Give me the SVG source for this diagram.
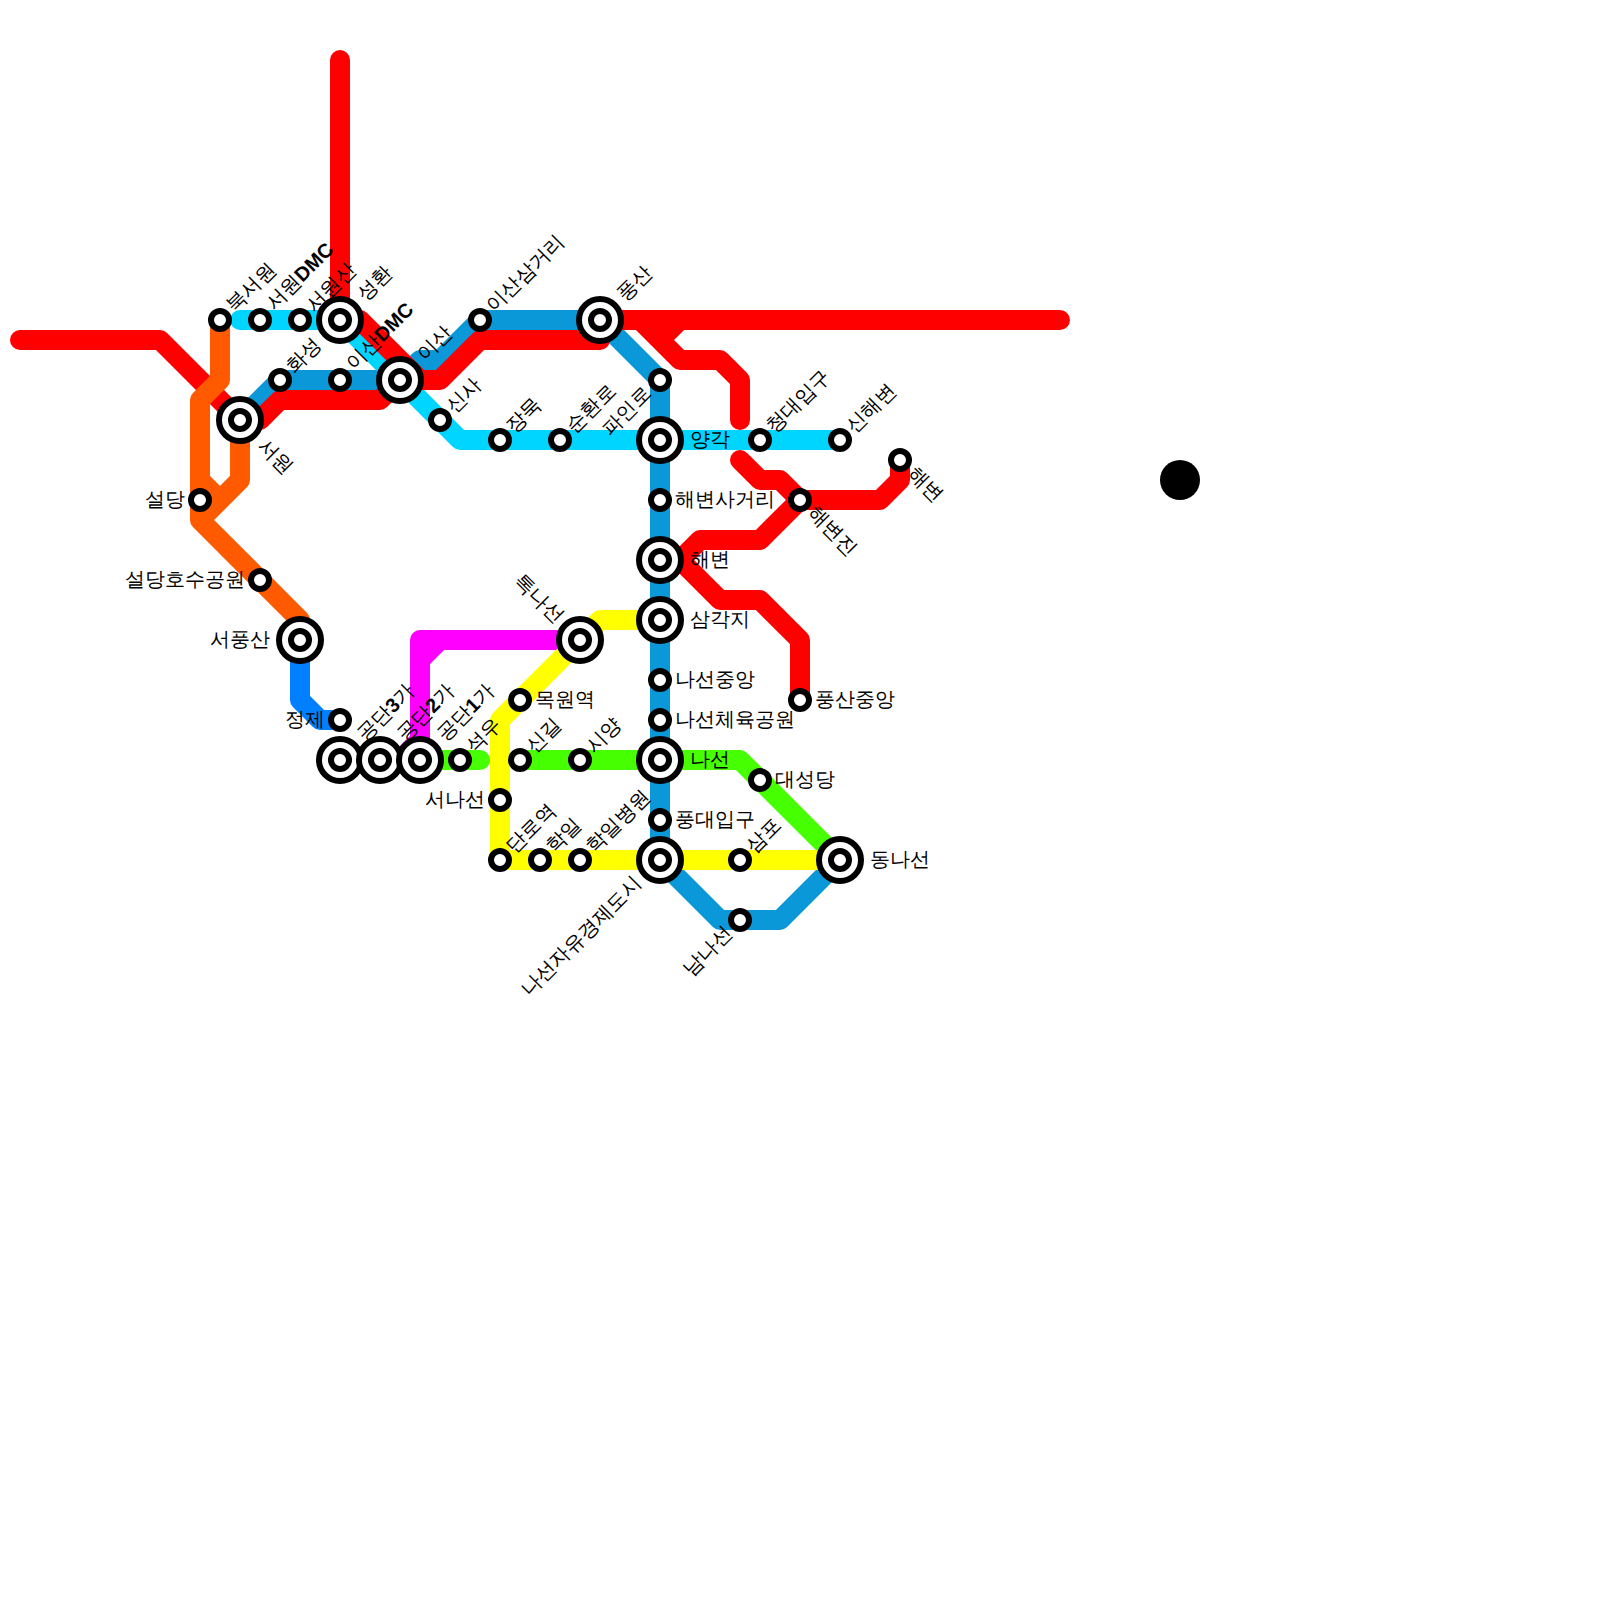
<svg xmlns="http://www.w3.org/2000/svg" width="1600" height="1600" viewBox="0 0 1600 1600">
<style>
.l{fill:none;stroke-width:20;stroke-linejoin:round;stroke-linecap:round}
.b{stroke:#0a98d8}.r{stroke:#ff0000}.c{stroke:#00d5ff}.o{stroke:#ff5a00}.y{stroke:#ffff00}.g{stroke:#46ff00}.m{stroke:#ff00ff}.n{stroke:#0080ff}
.s{fill:#fff;stroke:#000;stroke-width:6}
text{font-family:"Liberation Sans",sans-serif;font-size:20px;fill:#000}
tspan{font-weight:bold}
.e{text-anchor:end}
</style>
<defs>
<g id="st"><circle class="s" r="9"/></g>
<g id="ic"><circle class="s" r="21"/><circle class="s" r="9"/></g>
</defs>
<g id="connectors">
<path class="l b" d="M240 420L280 380H400L420 360H440L480 320H600L660 380V860L720 920H780L840 860"/>
<path class="l n" d="M300 640V700L320 720H340"/>
<path class="l c" d="M240 320H340L460 440H840"/>
<path class="l m" d="M580 640H420V760M440 640L420 660M420 740L400 760"/>
<path class="l g" d="M420 760H480M520 760H740L840 860"/>
<path class="l y" d="M840 860H500V720L600 620H660"/>
<path class="l r" d="M340 60V320H360L420 380H400M20 340H160L240 420H260L280 400H380L400 380H440L480 340H600V320H1060M640 320L680 360H720L740 380V420M680 320L660 340M740 460L760 480H780L800 500H880L900 480V460M800 500L760 540H700L680 560H660M680 560L720 600H760L800 640V700"/>
<path class="l o" d="M220 320V380L200 400V520L300 620V640M200 480L220 500M240 420V480L200 520"/>
</g>
<g id="n1"><use href="#st" x="220" y="320"/><text transform="translate(230 309) rotate(-45)" dy="6">북서원</text></g>
<g id="n2"><use href="#st" x="260" y="320"/><text transform="translate(270 307) rotate(-45)" dy="6">서원<tspan>DMC</tspan></text></g>
<g id="n3"><use href="#st" x="300" y="320"/><text transform="translate(310 309) rotate(-45)" dy="6">서원산</text></g>
<g id="n4"><use href="#ic" x="340" y="320"/><text transform="translate(361 298) rotate(-45)" dy="6">성환</text></g>
<g id="n5"><use href="#st" x="280" y="380"/><text transform="translate(290 370) rotate(-45)" dy="6">화성</text></g>
<g id="n6"><use href="#st" x="340" y="380"/><text transform="translate(350 367) rotate(-45)" dy="6">이산<tspan>DMC</tspan></text></g>
<g id="n7"><use href="#ic" x="400" y="380"/><text transform="translate(421 358) rotate(-45)" dy="6">이산</text></g>
<g id="n8"><use href="#ic" x="240" y="420"/><text transform="translate(261 443) rotate(45)" dy="6">서원</text></g>
<g id="n9"><use href="#st" x="200" y="500"/><text class="e" x="185" y="506">설당</text></g>
<g id="n10"><use href="#st" x="440" y="420"/><text transform="translate(450 410) rotate(-45)" dy="6">신사</text></g>
<g id="n11"><use href="#st" x="500" y="440"/><text transform="translate(510 430) rotate(-45)" dy="6">장묵</text></g>
<g id="n12"><use href="#st" x="560" y="440"/><text transform="translate(570 430) rotate(-45)" dy="6">순환로</text></g>
<g id="n13"><use href="#st" x="660" y="380"/><text class="e" transform="translate(648 390) rotate(-45)" dy="6">파인로</text></g>
<g id="n14"><use href="#ic" x="660" y="440"/><text x="690" y="446">양각</text></g>
<g id="n15"><use href="#st" x="480" y="320"/><text transform="translate(490 309) rotate(-45)" dy="6">이산삼거리</text></g>
<g id="n16"><use href="#ic" x="600" y="320"/><text transform="translate(621 298) rotate(-45)" dy="6">풍산</text></g>
<g id="n17"><use href="#st" x="760" y="440"/><text transform="translate(770 430) rotate(-45)" dy="6">청대입구</text></g>
<g id="n18"><use href="#st" x="840" y="440"/><text transform="translate(850 430) rotate(-45)" dy="6">신해변</text></g>
<g id="n19"><use href="#st" x="900" y="460"/><text transform="translate(911 471) rotate(45)" dy="6">해변</text></g>
<g id="n20"><use href="#st" x="800" y="500"/><text transform="translate(811 510) rotate(45)" dy="6">해변진</text></g>
<g id="n21"><use href="#st" x="660" y="500"/><text x="675" y="506">해변사거리</text></g>
<g id="n22"><use href="#ic" x="660" y="560"/><text x="690" y="566">해변</text></g>
<g id="n23"><use href="#ic" x="660" y="620"/><text x="690" y="626">삼각지</text></g>
<g id="n24"><use href="#st" x="660" y="680"/><text x="675" y="686">나선중앙</text></g>
<g id="n25"><use href="#st" x="660" y="720"/><text x="675" y="726">나선체육공원</text></g>
<g id="n26"><use href="#ic" x="660" y="760"/><text x="690" y="766">나선</text></g>
<g id="n27"><use href="#st" x="660" y="820"/><text x="675" y="826">풍대입구</text></g>
<g id="n28"><use href="#ic" x="660" y="860"/><text class="e" transform="translate(638 880) rotate(-45)" dy="6">나선자유경제도시</text></g>
<g id="n29"><use href="#st" x="740" y="860"/><text transform="translate(750 850) rotate(-45)" dy="6">삼포</text></g>
<g id="n30"><use href="#st" x="740" y="920"/><text class="e" transform="translate(729 930) rotate(-45)" dy="6">남나선</text></g>
<g id="n31"><use href="#ic" x="840" y="860"/><text x="870" y="866">동나선</text></g>
<g id="n32"><use href="#st" x="760" y="780"/><text x="775" y="786">대성당</text></g>
<g id="n33"><use href="#st" x="800" y="700"/><text x="815" y="706">풍산중앙</text></g>
<g id="n34"><use href="#st" x="520" y="700"/><text x="535" y="706">목원역</text></g>
<g id="n35"><use href="#st" x="520" y="760"/><text transform="translate(530 750) rotate(-45)" dy="6">신길</text></g>
<g id="n36"><use href="#st" x="580" y="760"/><text transform="translate(590 750) rotate(-45)" dy="6">시양</text></g>
<g id="n37"><use href="#ic" x="580" y="640"/><text class="e" transform="translate(560 620) rotate(45)" dy="6">톡나선</text></g>
<g id="n38"><use href="#st" x="260" y="580"/><text class="e" x="245" y="586">설당호수공원</text></g>
<g id="n39"><use href="#ic" x="300" y="640"/><text class="e" x="270" y="646">서풍산</text></g>
<g id="n40"><use href="#st" x="340" y="720"/><text class="e" x="325" y="726">정제</text></g>
<g id="n41"><use href="#ic" x="340" y="760"/><text transform="translate(361 738) rotate(-45)" dy="6">공단<tspan>3</tspan>가</text></g>
<g id="n42"><use href="#ic" x="380" y="760"/><text transform="translate(401 738) rotate(-45)" dy="6">공단<tspan>2</tspan>가</text></g>
<g id="n43"><use href="#ic" x="420" y="760"/><text transform="translate(441 738) rotate(-45)" dy="6">공단<tspan>1</tspan>가</text></g>
<g id="n44"><use href="#st" x="460" y="760"/><text transform="translate(470 750) rotate(-45)" dy="6">석우</text></g>
<g id="n45"><use href="#st" x="500" y="800"/><text class="e" x="485" y="806">서나선</text></g>
<g id="n46"><use href="#st" x="500" y="860"/><text transform="translate(510 850) rotate(-45)" dy="6">단로역</text></g>
<g id="n47"><use href="#st" x="540" y="860"/><text transform="translate(550 850) rotate(-45)" dy="6">학일</text></g>
<g id="n48"><use href="#st" x="580" y="860"/><text transform="translate(590 850) rotate(-45)" dy="6">학일병원</text></g>
<circle id="dot" cx="1180" cy="480" r="20" fill="#000"/>
</svg>
